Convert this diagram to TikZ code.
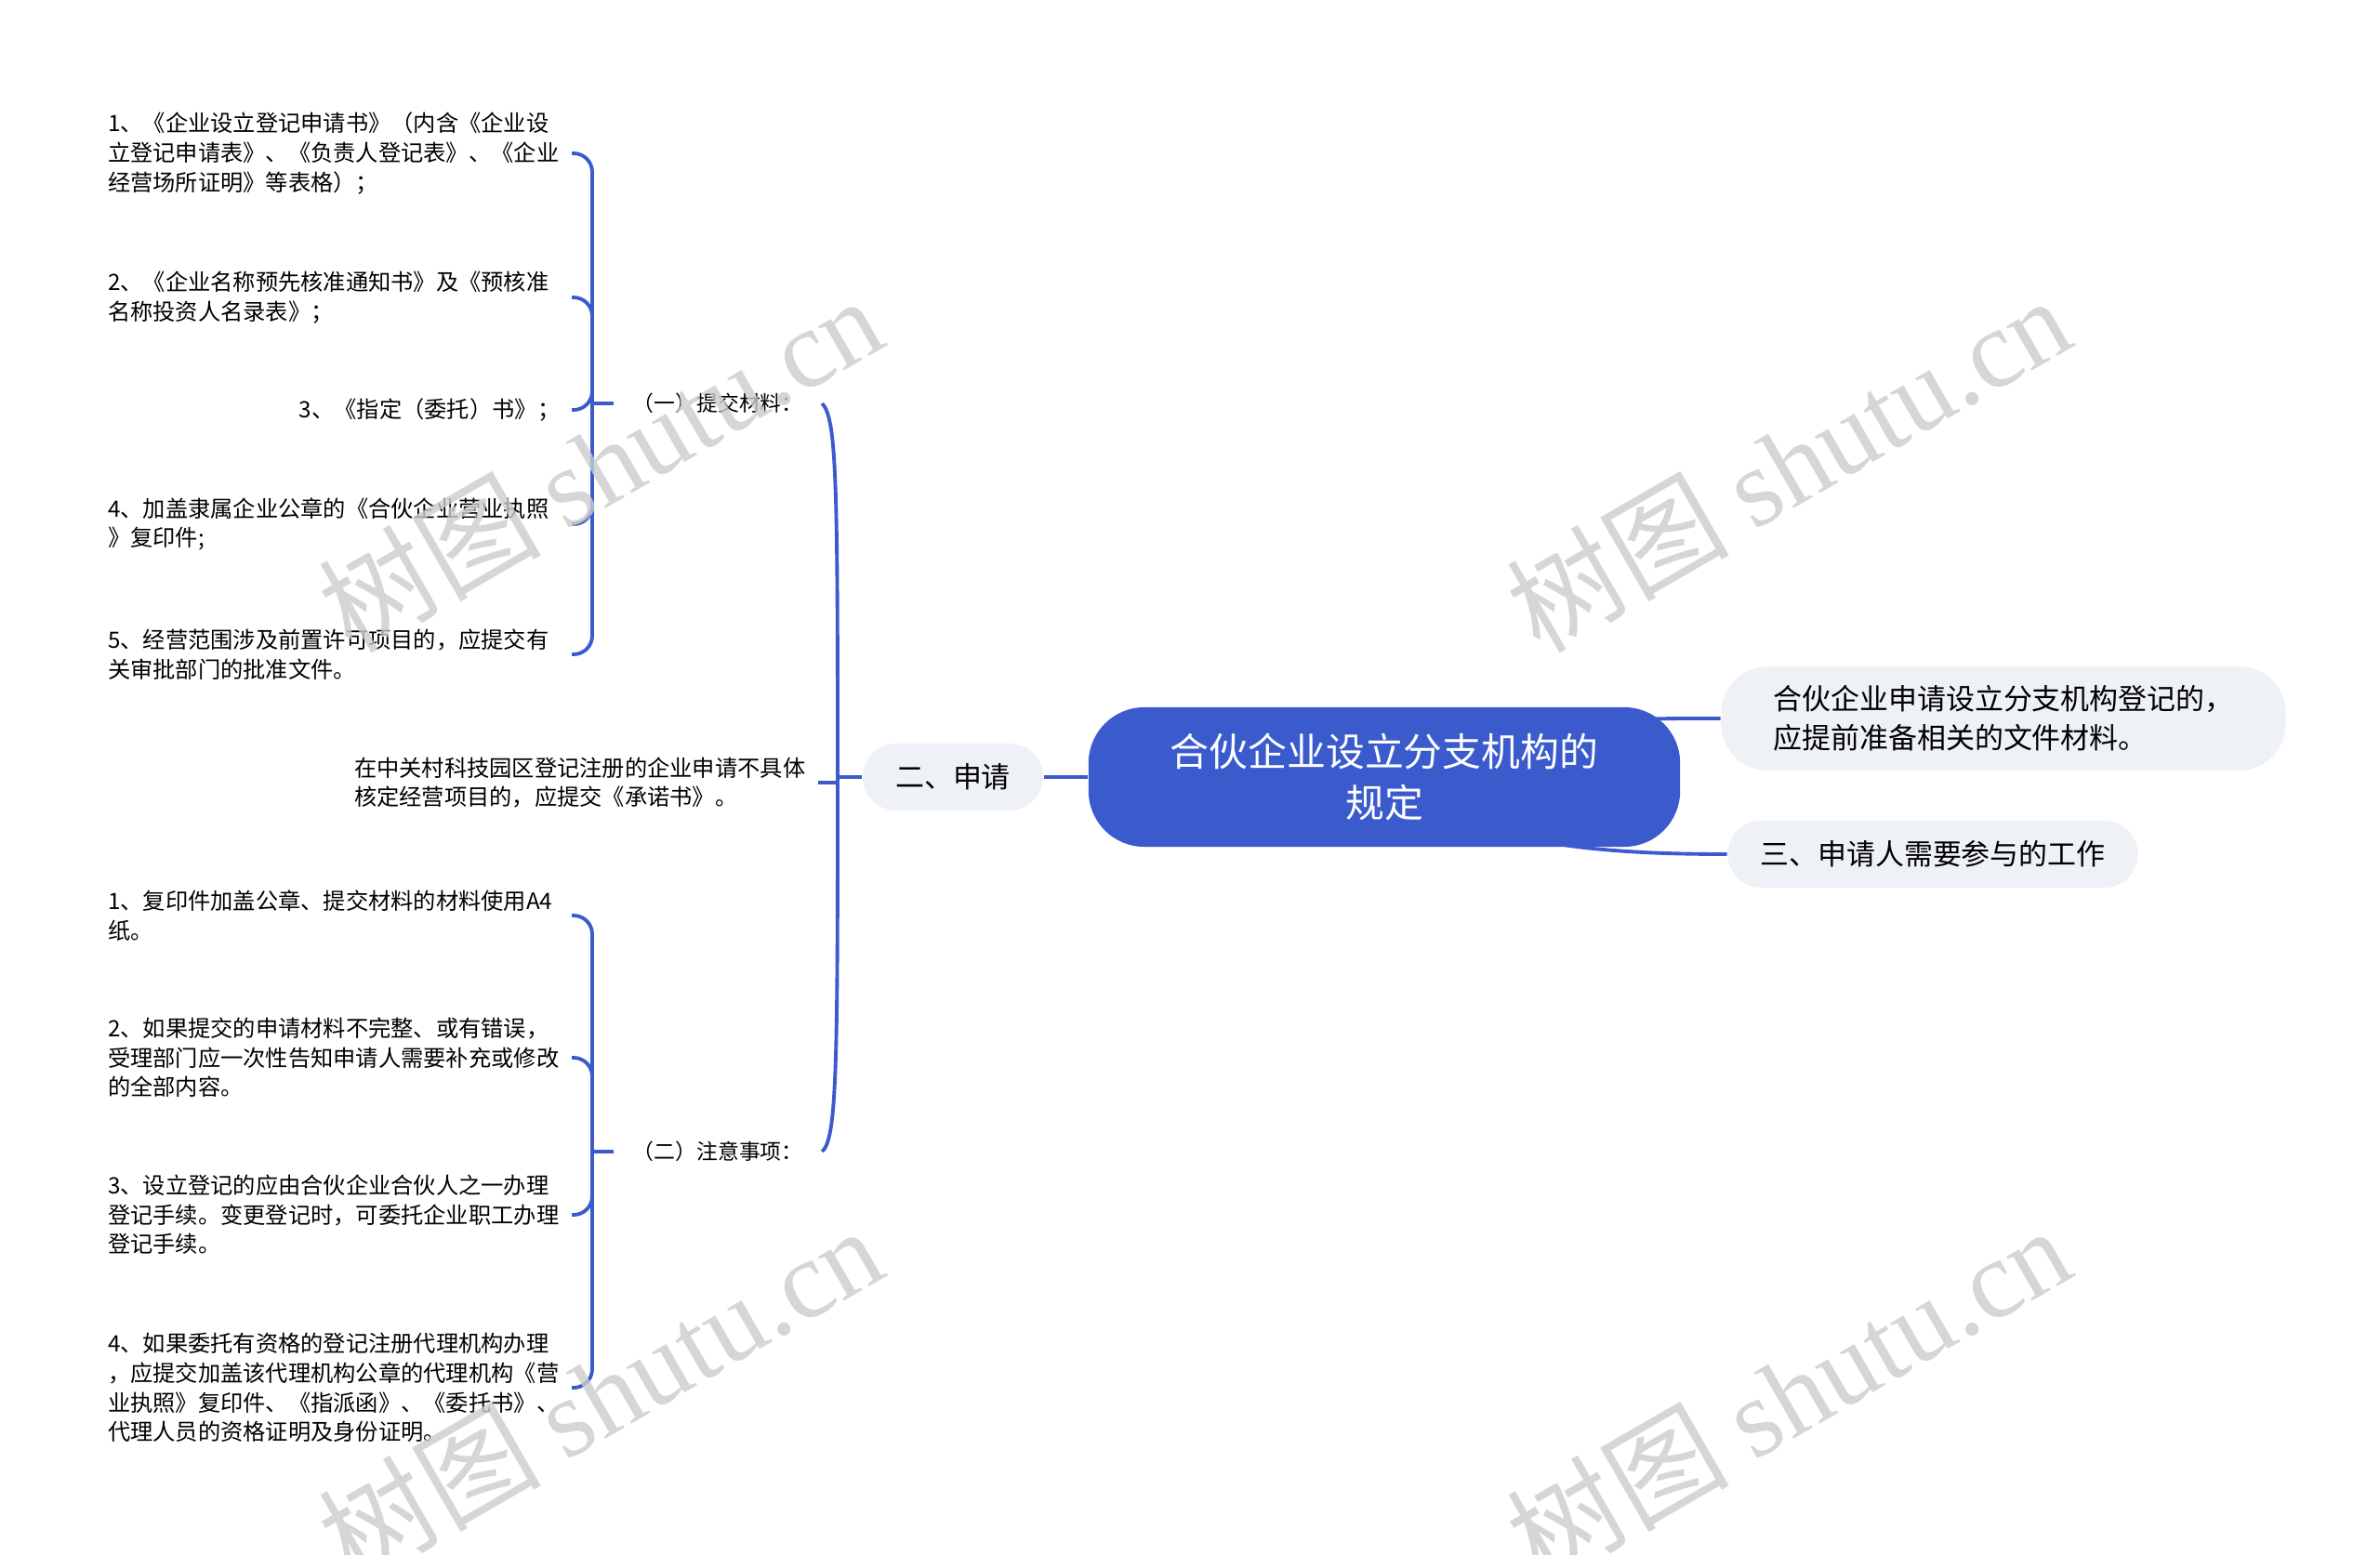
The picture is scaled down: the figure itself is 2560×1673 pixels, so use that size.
\documentclass[tikz,border=0pt]{standalone}
\usepackage{fontspec}
\setmainfont{Noto Sans CJK SC}
\newfontfamily\wmfont{Liberation Serif}
\usetikzlibrary{backgrounds}
\definecolor{mapblue}{RGB}{59,91,205}
\definecolor{pale}{RGB}{238,241,245}
\tikzset{
  rootbox/.style={fill=mapblue,text=white,rounded corners=0.6cm,minimum width=6.36cm,minimum height=1.5cm,align=center,font=\fontsize{11.9}{15.4}\selectfont},
  topicbox/.style={fill=pale,rounded corners=0.36cm,minimum height=0.72cm,inner xsep=0.35cm,align=left,font=\fontsize{8.8}{12}\selectfont},
  subtopic/.style={anchor=west,inner xsep=0.2cm,inner ysep=1pt,font=\fontsize{6.5}{9}\selectfont},
  leaf/.style={anchor=east,align=left,text width=4.86cm,inner xsep=0.12cm,inner ysep=1pt,font=\fontsize{6.9}{9}\selectfont},
  link/.style={draw=mapblue,line width=1.1pt},
  watermark/.style={text=black!20,text opacity=0.8,rotate=30,font=\fontsize{34}{34}\selectfont}
}
\begin{document}
\begin{tikzpicture}[x=0.01cm,y=-0.01cm]
  \useasboundingbox (0,0) rectangle (2560,1673);
  \node[rootbox] (root) at (1489,836) {合伙企业设立分支机构的\\规定}; %中心
  \node[topicbox,inner xsep=0.56cm,minimum height=1.12cm,rounded corners=0.5cm] (prep) at (2155,773) {合伙企业申请设立分支机构登记的，\\应提前准备相关的文件材料。};
  \node[topicbox] (work) at (2079,919) {三、申请人需要参与的工作};
  \node[topicbox] (apply) at (1025,836) {二、申请};
  \node[subtopic] (mat) at (660,434) {（一）提交材料：};
  \node[subtopic] (note) at (660,1239) {（二）注意事项：};
  \node[leaf] (park) at (880,842) {在中关村科技园区登记注册的企业申请不具体\\核定经营项目的，应提交《承诺书》。};
  % 提交材料
  \node[leaf] (l1) at (615,165) {1、《企业设立登记申请书》（内含《企业设\\立登记申请表》、《负责人登记表》、《企业\\经营场所证明》等表格）；};
  \node[leaf] (l2) at (615,320) {2、《企业名称预先核准通知书》及《预核准\\名称投资人名录表》；};
  \node[leaf,align=right] (l3) at (615,441) {3、《指定（委托）书》；};
  \node[leaf] (l4) at (615,564) {4、加盖隶属企业公章的《合伙企业营业执照\\》复印件;};
  \node[leaf] (l5) at (615,704) {5、经营范围涉及前置许可项目的，应提交有\\关审批部门的批准文件。};
  % 注意事项
  \node[leaf] (m1) at (615,985) {1、复印件加盖公章、提交材料的材料使用A4\\纸。};
  \node[leaf] (m2) at (615,1138) {2、如果提交的申请材料不完整、或有错误，\\受理部门应一次性告知申请人需要补充或修改\\的全部内容。};
  \node[leaf] (m3) at (615,1307) {3、设立登记的应由合伙企业合伙人之一办理\\登记手续。变更登记时，可委托企业职工办理\\登记手续。};
  \node[leaf] (m4) at (615,1493) {4、如果委托有资格的登记注册代理机构办理\\，应提交加盖该代理机构公章的代理机构《营\\业执照》复印件、《指派函》、《委托书》、\\代理人员的资格证明及身份证明。};
  \coordinate (hub) at (901,836);
  \coordinate (j1) at (637,434);
  \coordinate (j2) at (637,1239);
  \begin{scope}[on background layer]
    \draw[link] (root.center) .. controls (1650,770) and (1750,773) .. (prep.west);
    \draw[link] (root.center) .. controls (1580,905) and (1700,919) .. (work.west);
  \end{scope}
  \draw[link] (apply.east) -- (root.west);
  \draw[link] (apply.west) -- (hub);
  \draw[link] (hub) .. controls (901,520) and (900,450) .. (mat.east);
  \draw[link] (hub) .. controls (901,1150) and (900,1225) .. (note.east);
  \draw[link] (park.east) -- (park.east -| hub);
  \draw[link] (mat.west) -- (j1);
  \draw[link,rounded corners=0.2cm] (j1) |- (l1.east);
  \draw[link,rounded corners=0.2cm] (j1) |- (l2.east);
  \draw[link,rounded corners=0.2cm] (j1) |- (l3.east);
  \draw[link,rounded corners=0.2cm] (j1) |- (l4.east);
  \draw[link,rounded corners=0.2cm] (j1) |- (l5.east);
  \draw[link] (note.west) -- (j2);
  \draw[link,rounded corners=0.2cm] (j2) |- (m1.east);
  \draw[link,rounded corners=0.2cm] (j2) |- (m2.east);
  \draw[link,rounded corners=0.2cm] (j2) |- (m3.east);
  \draw[link,rounded corners=0.2cm] (j2) |- (m4.east);
  % 透かし
  \node[watermark] (wm1) at (645,498) {树图 {\wmfont shutu.cn}};
  \node[watermark] (wm2) at (1923,498) {树图 {\wmfont shutu.cn}};
  \node[watermark] (wm3) at (645,1499) {树图 {\wmfont shutu.cn}};
  \node[watermark] (wm4) at (1923,1499) {树图 {\wmfont shutu.cn}};
\end{tikzpicture}
\end{document}
